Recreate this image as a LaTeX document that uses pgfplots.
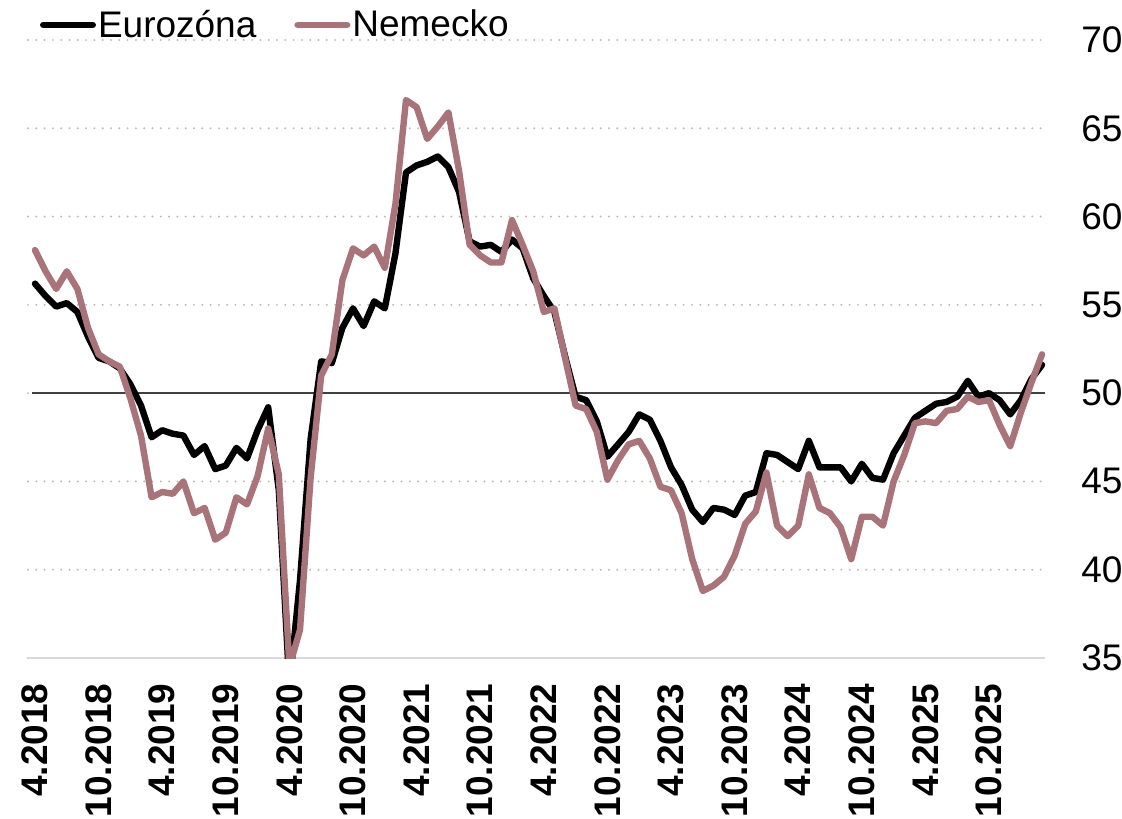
\documentclass[border=0pt]{standalone}
\usepackage{fontspec}
\setmainfont{Liberation Sans}
\usepackage{pgfplots}
\pgfplotsset{compat=1.18}
\usepackage{pgfplotstable}
\usetikzlibrary{calc}
\definecolor{de}{RGB}{169,115,122}
\definecolor{gridc}{RGB}{190,188,178}
\newcommand{\lblfont}{\fontsize{18.5}{22}\selectfont}

\pgfplotstableread{
i ez de
0 56.2 58.1
1 55.5 56.9
2 54.9 55.9
3 55.1 56.9
4 54.6 55.9
5 53.2 53.7
6 52.0 52.2
7 51.8 51.8
8 51.4 51.5
9 50.5 49.7
10 49.3 47.6
11 47.5 44.1
12 47.9 44.4
13 47.7 44.3
14 47.6 45.0
15 46.5 43.2
16 47.0 43.5
17 45.7 41.7
18 45.9 42.1
19 46.9 44.1
20 46.3 43.7
21 47.9 45.3
22 49.2 48.0
23 44.5 45.4
24 33.4 34.5
25 39.4 36.6
26 47.4 45.2
27 51.8 51.0
28 51.7 52.2
29 53.7 56.4
30 54.8 58.2
31 53.8 57.8
32 55.2 58.3
33 54.8 57.1
34 57.9 60.7
35 62.5 66.6
36 62.9 66.2
37 63.1 64.4
38 63.4 65.1
39 62.8 65.9
40 61.4 62.6
41 58.6 58.4
42 58.3 57.8
43 58.4 57.4
44 58.0 57.4
45 58.7 59.8
46 58.2 58.4
47 56.5 56.9
48 55.5 54.6
49 54.6 54.8
50 52.1 52.0
51 49.8 49.3
52 49.6 49.1
53 48.4 47.8
54 46.4 45.1
55 47.1 46.2
56 47.8 47.1
57 48.8 47.3
58 48.5 46.3
59 47.3 44.7
60 45.8 44.5
61 44.8 43.2
62 43.4 40.6
63 42.7 38.8
64 43.5 39.1
65 43.4 39.6
66 43.1 40.8
67 44.2 42.6
68 44.4 43.3
69 46.6 45.5
70 46.5 42.5
71 46.1 41.9
72 45.7 42.5
73 47.3 45.4
74 45.8 43.5
75 45.8 43.2
76 45.8 42.4
77 45.0 40.6
78 46.0 43.0
79 45.2 43.0
80 45.1 42.5
81 46.6 45.0
82 47.6 46.5
83 48.6 48.3
84 49.0 48.4
85 49.4 48.3
86 49.5 49.0
87 49.8 49.1
88 50.7 49.8
89 49.8 49.5
90 50.0 49.6
91 49.6 48.2
92 48.8 47.0
93 49.6 48.9
94 50.8 50.6
95 51.6 52.2
}\pmi

\begin{document}
\begin{tikzpicture}
\begin{axis}[
  scale only axis, width=508.5pt, height=309pt,
  xmin=-0.66, xmax=95.28, ymin=35, ymax=70,
  clip=true,
  separate axis lines,
  axis x line*=bottom,
  x axis line style={draw=gray!30, line width=1pt, -},
  axis y line*=right,
  y axis line style={draw=none},
  ytick={35,40,...,70},
  xtick={0,6,...,90},
  xticklabels={4.2018,10.2018,4.2019,10.2019,4.2020,10.2020,4.2021,10.2021,4.2022,10.2022,4.2023,10.2023,4.2024,10.2024,4.2025,10.2025},
  major tick length=0pt,
  tick style={draw=none},
  ymajorgrids,
  major grid style={gridc, line width=1.1pt, line cap=round, dash pattern=on 0pt off 4.15pt},
  /pgf/number format/assume math mode=true,
  yticklabel style={anchor=west, inner sep=0pt, xshift=18pt, font=\lblfont},
  xticklabel style={rotate=90, anchor=east, inner sep=0pt, font=\lblfont\bfseries},
  xticklabel shift=12.5pt,
  legend columns=2,
  legend style={at={(rel axis cs:0,1)}, anchor=west, xshift=6pt, yshift=7.5pt,
    draw=none, fill=none, inner sep=0pt, outer sep=0pt, font=\lblfont,
    nodes={inner sep=1pt},
    /tikz/every even column/.append style={column sep=18pt}},
  legend cell align=left,
  legend image code/.code={\draw[#1, line width=3.4pt, line cap=round] (1.7pt,0pt) -- (26.3pt,0pt);},
]
\coordinate (bl) at (rel axis cs:0,0);
\coordinate (tr) at (rel axis cs:1,1);
\draw[black!75, line width=0.7pt] (axis cs:-0.3,50) -- (axis cs:95.28,50);
\addplot[black, line width=3.2pt, line join=round, line cap=round] table[x=i, y=ez] {\pmi};
\addlegendentry{Eurozóna}
\addplot[de, line width=3.2pt, line join=round, line cap=round] table[x=i, y=de] {\pmi};
\addlegendentry{Nemecko}
\end{axis}
\pgfresetboundingbox
\path[use as bounding box] ($(bl)+(-14pt,-80pt)$) rectangle ($(tr)+(38.5pt,20pt)$);
\end{tikzpicture}
\end{document}
